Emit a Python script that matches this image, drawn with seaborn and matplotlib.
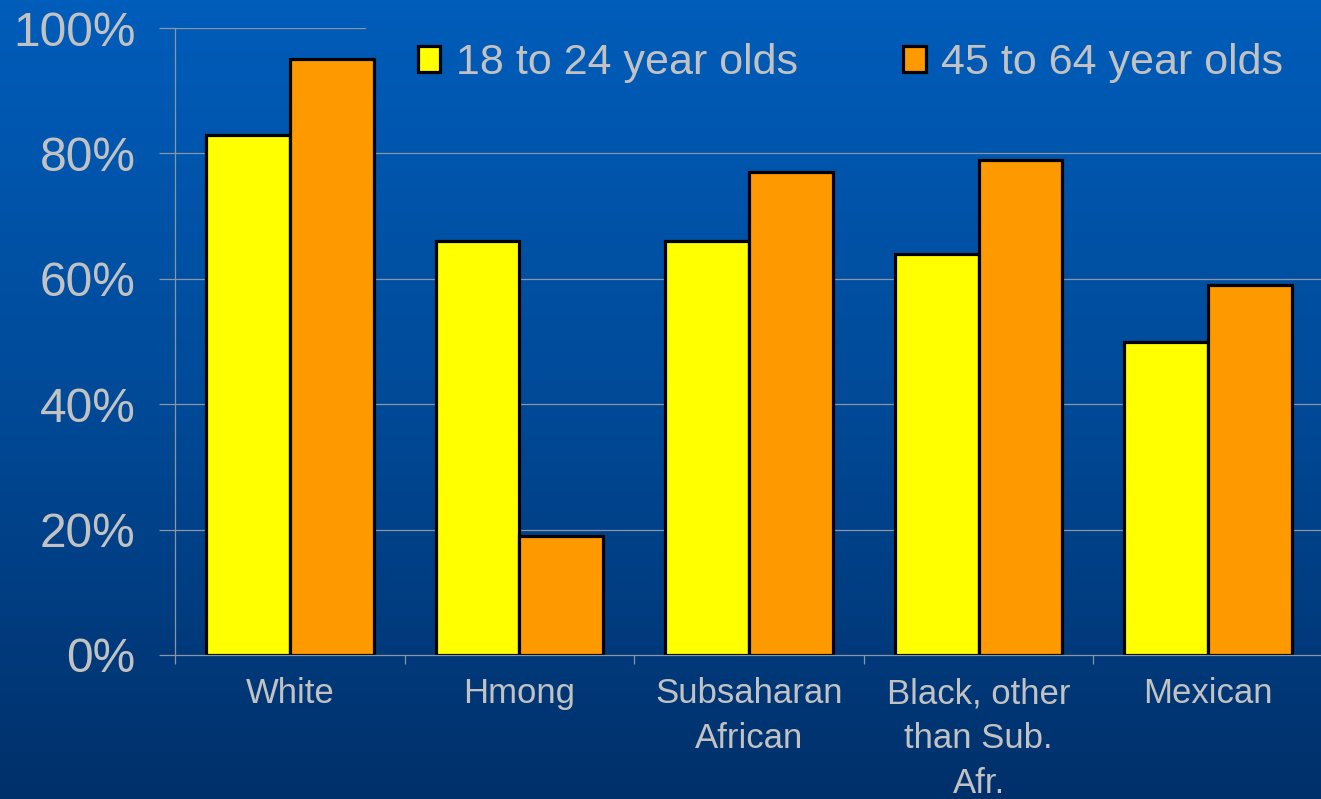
import numpy as np
import pandas as pd
import matplotlib
matplotlib.use("Agg")
import matplotlib.pyplot as plt
from matplotlib.colors import LinearSegmentedColormap
import seaborn as sns

# Share of each group, by age band (percent)
groups = ["White", "Hmong", "Subsaharan\nAfrican", "Black, other\nthan Sub.\nAfr.", "Mexican"]
young = [83, 66, 66, 64, 50]
older = [95, 19, 77, 79, 59]
series = ["18 to 24 year olds", "45 to 64 year olds"]
y_ticks = [0, 20, 40, 60, 80, 100]
y_tick_labels = ["0%", "20%", "40%", "60%", "80%", "100%"]

df = pd.DataFrame({
    "group": groups * 2,
    "age": [series[0]] * len(groups) + [series[1]] * len(groups),
    "pct": young + older,
})

sns.set_theme(style="white")
plt.rcParams["font.family"] = ["Liberation Sans", "DejaVu Sans"]

TEXT = "#C2C2C2"
LINE = "#8A96A6"
W, H = 1321, 799

fig = plt.figure(figsize=(W / 100, H / 100), dpi=100)

# vertical blue gradient behind everything
bg = fig.add_axes([0, 0, 1, 1], zorder=-10)
grad = np.linspace(0, 1, 256).reshape(-1, 1)
cmap = LinearSegmentedColormap.from_list("slide", ["#005DBA", "#004A98", "#00306A"])
bg.imshow(grad, aspect="auto", cmap=cmap, extent=[0, 1, 0, 1])
bg.axis("off")

ax = fig.add_axes([175 / W, 1 - 655 / H, 1148 / W, 627 / H])
ax.patch.set_alpha(0)

sns.barplot(data=df, x="group", y="pct", hue="age",
            palette=["#FFFF00", "#FF9900"], saturation=1, width=0.73,
            edgecolor="black", linewidth=2.3, ax=ax, zorder=2)

ax.set_xlim(-0.5, len(groups) - 0.5)
ax.set_ylim(0, 100)
ax.set_xlabel("")
ax.set_ylabel("")
ax.set_yticks(y_ticks, y_tick_labels)

# horizontal gridlines; the top one stops where the legend sits
legend_left = 190 / 1148
for v in y_ticks[1:]:
    ax.axhline(v, xmin=0, xmax=legend_left if v == 100 else 1,
               color=LINE, lw=0.9, zorder=0.5)

for side in ("top", "right"):
    ax.spines[side].set_visible(False)
for side in ("left", "bottom"):
    ax.spines[side].set_color(LINE)
    ax.spines[side].set_linewidth(0.9)

ax.tick_params(axis="y", left=True, length=11.5, width=0.9, color=LINE,
               pad=17, labelsize=34.5, labelcolor=TEXT)
ax.tick_params(axis="x", which="major", length=0, pad=16,
               labelsize=25, labelcolor=TEXT)
ax.set_xticks(np.arange(-0.5, len(groups), 1), minor=True)
ax.tick_params(axis="x", which="minor", bottom=True, length=6.5,
               width=0.9, color=LINE, direction="out")
for lab in ax.get_xticklabels():
    lab.set_linespacing(1.45)

handles, labels = ax.get_legend_handles_labels()
leg = ax.legend(handles, labels, ncol=2, frameon=False,
                loc="center left", bbox_to_anchor=(418 / W, 1 - 63 / H),
                bbox_transform=fig.transFigure, borderpad=0, borderaxespad=0,
                handlelength=0.52, handleheight=0.55, handletextpad=0.36,
                columnspacing=2.45, fontsize=31)
for t in leg.get_texts():
    t.set_color(TEXT)

fig.savefig("out.png", dpi=100)
